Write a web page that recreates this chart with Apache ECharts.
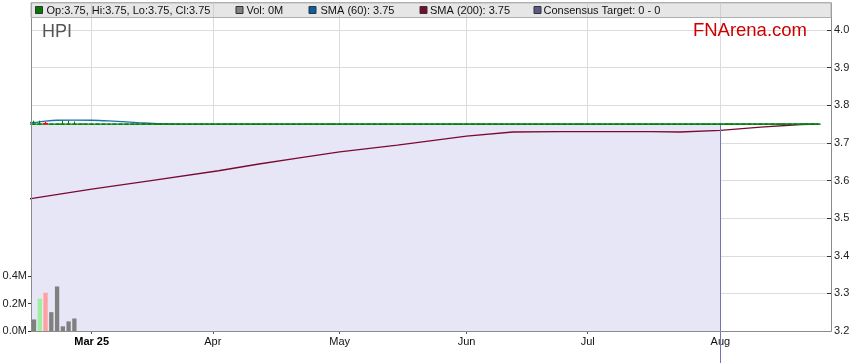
<!DOCTYPE html>
<html><head><meta charset="utf-8">
<script src="https://cdn.jsdelivr.net/npm/echarts@6/dist/echarts.min.js"></script>
<style>html,body{margin:0;padding:0;background:#fff}#c{width:859px;height:363px}</style>
</head><body><div id="c"></div>
<script>
// Trading-day index: 0 = Mon 17 Feb 2025 ... 136 = Tue 26 Aug 2025 (weekdays only)
const tickDays = [10, 31, 53, 75, 96, 119];           // 3 Mar, 1 Apr, 1 May, 2 Jun, 1 Jul, 1 Aug
const tickLabels = ['Mar 25', 'Apr', 'May', 'Jun', 'Jul', 'Aug'];

const openP = [
  3.75, 3.75, 3.752, 3.75, 3.75, 3.75, 3.75, 3.75, 3.75, 3.75,
  3.75, 3.75, 3.75, 3.75, 3.75, 3.75, 3.75, 3.75, 3.75, 3.75,
  3.75, 3.75, 3.75, 3.75, 3.75, 3.75, 3.75, 3.75, 3.75, 3.75,
  3.75, 3.75, 3.75, 3.75, 3.75, 3.75, 3.75, 3.75, 3.75, 3.75,
  3.75, 3.75, 3.75, 3.75, 3.75, 3.75, 3.75, 3.75, 3.75, 3.75,
  3.75, 3.75, 3.75, 3.75, 3.75, 3.75, 3.75, 3.75, 3.75, 3.75,
  3.75, 3.75, 3.75, 3.75, 3.75, 3.75, 3.75, 3.75, 3.75, 3.75,
  3.75, 3.75, 3.75, 3.75, 3.75, 3.75, 3.75, 3.75, 3.75, 3.75,
  3.75, 3.75, 3.75, 3.75, 3.75, 3.75, 3.75, 3.75, 3.75, 3.75,
  3.75, 3.75, 3.75, 3.75, 3.75, 3.75, 3.75, 3.75, 3.75, 3.75,
  3.75, 3.75, 3.75, 3.75, 3.75, 3.75, 3.75, 3.75, 3.75, 3.75,
  3.75, 3.75, 3.75, 3.75, 3.75, 3.75, 3.75, 3.75, 3.75, 3.75,
  3.75, 3.75, 3.75, 3.75, 3.75, 3.75, 3.75, 3.75, 3.75, 3.75,
  3.75, 3.75, 3.75, 3.75, 3.75, 3.75, 3.75
];
const closeP = [
  3.75, 3.75, 3.75, 3.75, 3.75, 3.75, 3.75, 3.75, 3.75, 3.75,
  3.75, 3.75, 3.75, 3.75, 3.75, 3.75, 3.75, 3.75, 3.75, 3.75,
  3.75, 3.75, 3.75, 3.75, 3.75, 3.75, 3.75, 3.75, 3.75, 3.75,
  3.75, 3.75, 3.75, 3.75, 3.75, 3.75, 3.75, 3.75, 3.75, 3.75,
  3.75, 3.75, 3.75, 3.75, 3.75, 3.75, 3.75, 3.75, 3.75, 3.75,
  3.75, 3.75, 3.75, 3.75, 3.75, 3.75, 3.75, 3.75, 3.75, 3.75,
  3.75, 3.75, 3.75, 3.75, 3.75, 3.75, 3.75, 3.75, 3.75, 3.75,
  3.75, 3.75, 3.75, 3.75, 3.75, 3.75, 3.75, 3.75, 3.75, 3.75,
  3.75, 3.75, 3.75, 3.75, 3.75, 3.75, 3.75, 3.75, 3.75, 3.75,
  3.75, 3.75, 3.75, 3.75, 3.75, 3.75, 3.75, 3.75, 3.75, 3.75,
  3.75, 3.75, 3.75, 3.75, 3.75, 3.75, 3.75, 3.75, 3.75, 3.75,
  3.75, 3.75, 3.75, 3.75, 3.75, 3.75, 3.75, 3.75, 3.75, 3.75,
  3.75, 3.75, 3.75, 3.75, 3.75, 3.75, 3.75, 3.75, 3.75, 3.75,
  3.75, 3.75, 3.75, 3.75, 3.75, 3.75, 3.75
];
const lowP = closeP;
const highP = [
  3.759, 3.759, 3.756, 3.75, 3.75, 3.759, 3.759, 3.757, 3.75, 3.75,
  3.75, 3.75, 3.75, 3.75, 3.75, 3.75, 3.75, 3.75, 3.75, 3.75,
  3.75, 3.75, 3.75, 3.75, 3.75, 3.75, 3.75, 3.75, 3.75, 3.75,
  3.75, 3.75, 3.75, 3.75, 3.75, 3.75, 3.75, 3.75, 3.75, 3.75,
  3.75, 3.75, 3.75, 3.75, 3.75, 3.75, 3.75, 3.75, 3.75, 3.75,
  3.75, 3.75, 3.75, 3.75, 3.75, 3.75, 3.75, 3.75, 3.75, 3.75,
  3.75, 3.75, 3.75, 3.75, 3.75, 3.75, 3.75, 3.75, 3.75, 3.75,
  3.75, 3.75, 3.75, 3.75, 3.75, 3.75, 3.75, 3.75, 3.75, 3.75,
  3.75, 3.75, 3.75, 3.75, 3.75, 3.75, 3.75, 3.75, 3.75, 3.75,
  3.75, 3.75, 3.75, 3.75, 3.75, 3.75, 3.75, 3.75, 3.75, 3.75,
  3.75, 3.75, 3.75, 3.75, 3.75, 3.75, 3.75, 3.75, 3.75, 3.75,
  3.75, 3.75, 3.75, 3.75, 3.75, 3.75, 3.75, 3.75, 3.75, 3.75,
  3.75, 3.75, 3.75, 3.75, 3.75, 3.75, 3.75, 3.75, 3.75, 3.75,
  3.75, 3.75, 3.75, 3.75, 3.75, 3.75, 3.75
];
const volume = [
  84000, 235000, 278000, 137000, 324000, 34000, 70000, 91000, 0, 0,
  0, 0, 0, 0, 0, 0, 0, 0, 0, 0,
  0, 0, 0, 0, 0, 0, 0, 0, 0, 0,
  0, 0, 0, 0, 0, 0, 0, 0, 0, 0,
  0, 0, 0, 0, 0, 0, 0, 0, 0, 0,
  0, 0, 0, 0, 0, 0, 0, 0, 0, 0,
  0, 0, 0, 0, 0, 0, 0, 0, 0, 0,
  0, 0, 0, 0, 0, 0, 0, 0, 0, 0,
  0, 0, 0, 0, 0, 0, 0, 0, 0, 0,
  0, 0, 0, 0, 0, 0, 0, 0, 0, 0,
  0, 0, 0, 0, 0, 0, 0, 0, 0, 0,
  0, 0, 0, 0, 0, 0, 0, 0, 0, 0,
  0, 0, 0, 0, 0, 0, 0, 0, 0, 0,
  0, 0, 0, 0, 0, 0, 0
];
const upDays = [1];
const downDays = [2];
const prevClose = 3.75;   // Fri 14 Feb (day -1), just left of the visible window

const sma60 = [
  [-1, 3.7535], [0, 3.7543], [2, 3.758], [4, 3.7603], [7, 3.7608], [10, 3.7603],
  [13, 3.7585], [16, 3.756], [19, 3.753], [22, 3.751], [26, 3.7502], [30, 3.75], [136, 3.75]
];
const sma200 = [
  [-1, 3.551], [0, 3.553], [10, 3.577], [20, 3.599], [32, 3.626], [39, 3.644], [46, 3.66],
  [53, 3.676], [63, 3.694], [75, 3.718], [83, 3.729], [91, 3.730], [107, 3.730], [112, 3.729],
  [119, 3.7335], [126, 3.742], [133, 3.749], [136, 3.75]
];
const targetDay = 119;   // 1 Aug
const targetLow = 0, targetHigh = 0;

const FONT = 'Liberation Sans, Arial, sans-serif';
const X_MIN = -0.52, X_MAX = 138.18;
const last = closeP.length - 1;

const candles = closeP.map((c, i) => [i, openP[i], c, lowP[i], highP[i]]);
const closeLine = [[-1, prevClose]].concat(closeP.map((c, i) => [i, c]));
const volData = volume.map((v, i) => ({
  value: [i, v],
  itemStyle: { color: upDays.includes(i) ? '#9cf09c' : downDays.includes(i) ? '#ffa0a0' : '#808080' }
}));
const shade = closeLine.slice(0, targetDay + 2);

const fmt = v => v.toFixed(2);
const legendItems = [
  { x: 35, tx: 46.5, color: '#007a00', text: `Op:${fmt(openP[last])}, Hi:${fmt(highP[last])}, Lo:${fmt(lowP[last])}, Cl:${fmt(closeP[last])}` },
  { x: 235.5, tx: 246.5, color: '#808080', text: `Vol: ${(volume[last] / 1e6).toFixed(0)}M` },
  { x: 308.5, tx: 320.5, color: '#0a5fa0', text: `SMA (60): ${fmt(sma60[sma60.length - 1][1])}` },
  { x: 419.5, tx: 430, color: '#7a0a32', text: `SMA (200): ${fmt(sma200[sma200.length - 1][1])}` },
  { x: 533.5, tx: 543.5, color: '#5a5a8a', text: `Consensus Target: ${targetLow} - ${targetHigh}` }
];
const graphics = [
  { type: 'rect', z: 100, shape: { x: 31, y: 2.5, width: 800, height: 15 },
    style: { fill: 'rgba(190,190,190,0.38)', stroke: '#b0b0b0', lineWidth: 1 } }
];
legendItems.forEach(it => {
  graphics.push({ type: 'rect', z: 101, shape: { x: it.x + 0.5, y: 6.5, width: 7, height: 7 },
    style: { fill: it.color, stroke: '#333', lineWidth: 1 } });
  graphics.push({ type: 'text', z: 101, x: it.tx, y: 10.5,
    style: { text: it.text, font: '11px ' + FONT, fill: '#111', verticalAlign: 'middle', align: 'left' } });
});
graphics.push({ type: 'text', z: 101, x: 42, y: 32.5,
  style: { text: 'HPI', font: '18px ' + FONT, fill: '#555', verticalAlign: 'middle' } });
graphics.push({ type: 'text', z: 101, x: 807, y: 31,
  style: { text: 'FNArena.com', font: '18.5px ' + FONT, fill: '#cc0000', verticalAlign: 'middle', align: 'right' } });

const hidden = { axisLabel: { show: false }, axisTick: { show: false }, splitLine: { show: false } };

const chart = echarts.init(document.getElementById('c'), null, { renderer: 'canvas' });
chart.setOption({
  animation: false,
  textStyle: { fontFamily: FONT },
  graphic: graphics,
  grid: [
    { left: 31, right: 28, top: 3, bottom: 32, containLabel: false, outerBoundsMode: 'none' },
    { left: 31, right: 28, top: 276, height: 55, containLabel: false, outerBoundsMode: 'none' }
  ],
  xAxis: [
    { type: 'value', gridIndex: 0, min: X_MIN, max: X_MAX, position: 'bottom',
      axisLine: { show: true, onZero: false, lineStyle: { color: '#8c8c8c' } },
      axisTick: { show: true, length: 3, customValues: tickDays, lineStyle: { color: '#555' } },
      axisLabel: { customValues: tickDays, margin: 5, fontSize: 11, color: '#111', fontFamily: FONT,
        formatter: v => { const k = tickDays.indexOf(Math.round(v)); if (k < 0) return ''; return k === 0 ? '{b|' + tickLabels[k] + '}' : tickLabels[k]; },
        rich: { b: { fontWeight: 'bold', fontSize: 11, color: '#000', fontFamily: FONT } } },
      splitLine: { show: true, lineStyle: { color: '#dcdcdc' } } },
    Object.assign({ type: 'value', gridIndex: 1, min: X_MIN, max: X_MAX, show: false,
      axisLine: { show: false, onZero: false } }, hidden),
    Object.assign({ type: 'value', gridIndex: 0, min: X_MIN, max: X_MAX, position: 'bottom', z: 10,
      axisLine: { show: true, onZero: false, lineStyle: { color: '#8c8c8c' } } }, hidden)
  ],
  yAxis: [
    { type: 'value', gridIndex: 0, position: 'right', min: 3.2, max: 4.072, interval: 0.1,
      axisLine: { show: true, onZero: false, lineStyle: { color: '#8c8c8c' } },
      axisTick: { show: true, inside: true, length: 4, lineStyle: { color: '#333' } },
      axisLabel: { margin: 3, fontSize: 11, color: '#222', fontFamily: FONT, showMaxLabel: false,
        formatter: v => Math.abs(v * 10 - Math.round(v * 10)) < 1e-6 ? v.toFixed(1) : '' },
      splitLine: { show: true, lineStyle: { color: '#dcdcdc' } } },
    { type: 'value', gridIndex: 1, position: 'left', min: 0, max: 400000, interval: 200000, z: 10,
      axisLine: { show: true, onZero: false, lineStyle: { color: '#8c8c8c' } },
      axisTick: { show: true, length: 3, lineStyle: { color: '#333' } },
      axisLabel: { margin: 4, fontSize: 11, color: '#222', fontFamily: FONT,
        formatter: v => (v / 1e6).toFixed(1) + 'M' },
      splitLine: { show: false } },
    Object.assign({ type: 'value', gridIndex: 0, position: 'left', min: 0, max: 1, z: 10,
      axisLine: { show: true, onZero: false, lineStyle: { color: '#8c8c8c' } } }, hidden)
  ],
  series: [
    { name: 'Consensus Target', type: 'line', xAxisIndex: 0, yAxisIndex: 0, data: shade, z: 1,
      symbol: 'none', lineStyle: { width: 0, opacity: 0 },
      areaStyle: { color: '#e6e6f7', opacity: 1, origin: 'start' } },
    { name: 'Volume', type: 'bar', xAxisIndex: 1, yAxisIndex: 1, data: volData, barWidth: 4.3, z: 6 },
    { name: 'SMA (200)', type: 'line', xAxisIndex: 0, yAxisIndex: 0, data: sma200, z: 3,
      symbol: 'none', lineStyle: { color: '#7a0a32', width: 1.3 } },
    { name: 'SMA (60)', type: 'line', xAxisIndex: 0, yAxisIndex: 0, data: sma60, z: 3,
      symbol: 'none', smooth: 0.3, lineStyle: { color: '#1f6fb2', width: 1.3 } },
    { name: 'Close', type: 'line', xAxisIndex: 0, yAxisIndex: 0, data: closeLine, z: 4,
      symbol: 'none', lineStyle: { color: '#0a8a0a', width: 1.2 } },
    { name: 'HPI', type: 'candlestick', xAxisIndex: 0, yAxisIndex: 0, data: candles, barWidth: 4.4, z: 5,
      itemStyle: { color: '#008000', color0: '#ff0000', borderColor: '#008000', borderColor0: '#ff0000', borderWidth: 1 } },
    { name: 'Target line', type: 'custom', xAxisIndex: 0, yAxisIndex: 0, clip: false, z: 5,
      data: [[targetDay, closeP[targetDay], targetHigh]], encode: { x: 0, y: [1, 2] },
      renderItem: (params, api) => {
        const p1 = api.coord([api.value(0), api.value(1)]);
        const p2 = api.coord([api.value(0), api.value(2)]);
        const x = Math.round(p1[0]) + 0.5;
        return { type: 'line', shape: { x1: x, y1: p1[1], x2: x, y2: p2[1] },
          style: { stroke: '#7373b3', lineWidth: 1 } };
      } }
  ]
});
</script>
</body></html>
